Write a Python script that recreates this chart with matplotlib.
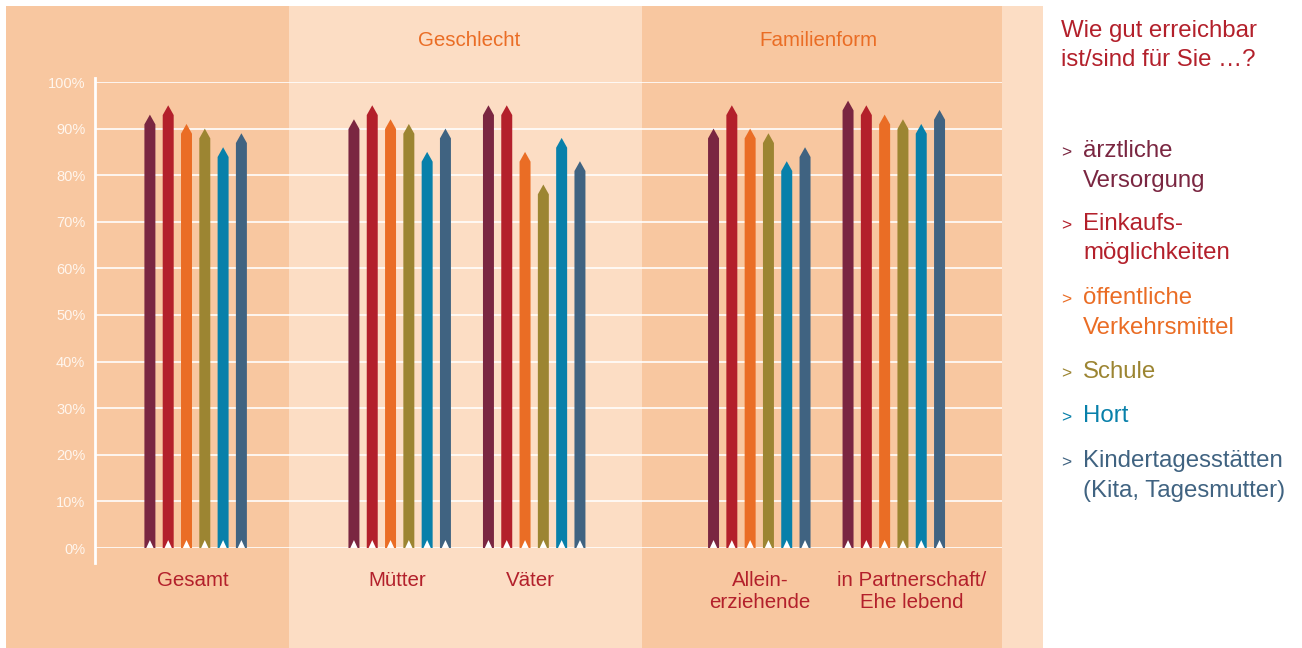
import matplotlib
matplotlib.use("Agg")
import matplotlib.pyplot as plt
from matplotlib.patches import Polygon, Rectangle

plt.rcParams['font.family'] = ['Liberation Sans', 'DejaVu Sans']

# ---- data -------------------------------------------------------------
groups = ["Gesamt", "Mütter", "Väter", "Allein-\nerziehende", "in Partnerschaft/\nEhe lebend"]
series = ["ärztliche\nVersorgung", "Einkaufs-\nmöglichkeiten", "öffentliche\nVerkehrsmittel",
          "Schule", "Hort", "Kindertagesstätten\n(Kita, Tagesmutter)"]
aerztliche = [93, 92, 95, 90, 96]
einkauf = [95, 95, 95, 95, 95]
oepnv = [91, 92, 85, 90, 93]
schule = [90, 91, 78, 89, 92]
hort = [86, 85, 88, 83, 91]
kita = [89, 90, 83, 86, 94]
yticks = [0, 10, 20, 30, 40, 50, 60, 70, 80, 90, 100]
section_titles = ["Geschlecht", "Familienform"]
legend_title = "Wie gut erreichbar\nist/sind für Sie …?"

colors = ["#7A2641", "#B3202B", "#EA6D25", "#9C8532", "#0880AA", "#406381"]
dark_bg = "#F8C7A0"
light_bg = "#FCDDC4"
label_red = "#B3202B"
orange = "#EA6D25"

values = [aerztliche, einkauf, oepnv, schule, hort, kita]

# ---- figure -----------------------------------------------------------
W, H = 1302, 648
fig = plt.figure(figsize=(W / 100, H / 100), dpi=100)
fig.patch.set_facecolor("white")

# background canvas in pixel coordinates (y downward)
bg = fig.add_axes([0, 0, 1, 1])
bg.set_xlim(0, W)
bg.set_ylim(H, 0)
bg.axis("off")
for x0, x1, c in [(6, 289, dark_bg), (289, 642, light_bg), (642, 1002, dark_bg), (1002, 1043, light_bg)]:
    bg.add_patch(Rectangle((x0, 6), x1 - x0, H - 6, facecolor=c, edgecolor="none"))

# plotting axes: y 0..100 spans pixel rows 548..82, x from 95 to 1002 px
ax_left, ax_right, y0_px, y100_px = 95, 1002, 548, 82
ax = fig.add_axes([ax_left / W, (H - y0_px) / H, (ax_right - ax_left) / W, (y0_px - y100_px) / H])
ax.patch.set_alpha(0)
step = 18.3
ax.set_xlim(0, (ax_right - ax_left) / step)
ax.set_ylim(0, 100)
for s in ax.spines.values():
    s.set_visible(False)
ax.set_xticks([])
ax.set_yticks(yticks)
ax.set_yticklabels([f"{t}%" for t in yticks], color="#FFF6EE", fontsize=10.5)
ax.tick_params(axis="y", length=0, pad=7)
for t in yticks:
    ax.axhline(t, color="white", lw=1.3, alpha=0.9, zorder=1)
# vertical axis line, extending a little below zero
ax.plot([0, 0], [-3.2, 100.8], color="white", lw=2, clip_on=False, zorder=2)

group_start = [3.0, 14.15, 21.5, 33.8, 41.15]
bw = 0.6
tip = 2.1
notch = 1.7
for gi, g0 in enumerate(group_start):
    for si in range(len(series)):
        v = values[si][gi]
        xc = g0 + si
        xl, xr = xc - bw / 2, xc + bw / 2
        body = Polygon([(xl, 0), (xl, v - tip), (xc, v), (xr, v - tip), (xr, 0)],
                       closed=True, facecolor=colors[si], edgecolor="none", zorder=3)
        ax.add_patch(body)
        ax.add_patch(Polygon([(xl + 0.1, 0), (xc, notch), (xr - 0.1, 0)], closed=True,
                             facecolor="white", edgecolor="none", zorder=4))

# category labels
label_x = [193, 397, 530, 760, 912]
for gname, lx in zip(groups, label_x):
    bg.text(lx, 571, gname, ha="center", va="top", color=label_red, fontsize=14.8,
            linespacing=1.23)

# section titles
bg.text(469, 41, section_titles[0], ha="center", va="center", color=orange, fontsize=14.8)
bg.text(818, 41, section_titles[1], ha="center", va="center", color=orange, fontsize=14.8)

# legend title, one line at a time
line_step = 29.5
for k, line in enumerate(legend_title.split("\n")):
    bg.text(1061, 37 + k * line_step, line, ha="left", va="baseline", color=label_red,
            fontsize=17.3)

# legend entries: marker + (possibly two-line) label
legend_first_baseline = [157, 230, 304, 378, 422, 467]
for name, c, base in zip(series, colors, legend_first_baseline):
    bg.text(1061, base, ">", ha="left", va="baseline", color=c, fontsize=12.5)
    for k, line in enumerate(name.split("\n")):
        bg.text(1083, base + k * line_step, line, ha="left", va="baseline", color=c,
                fontsize=17.3)

fig.savefig("out.png", dpi=100, facecolor=fig.get_facecolor())
